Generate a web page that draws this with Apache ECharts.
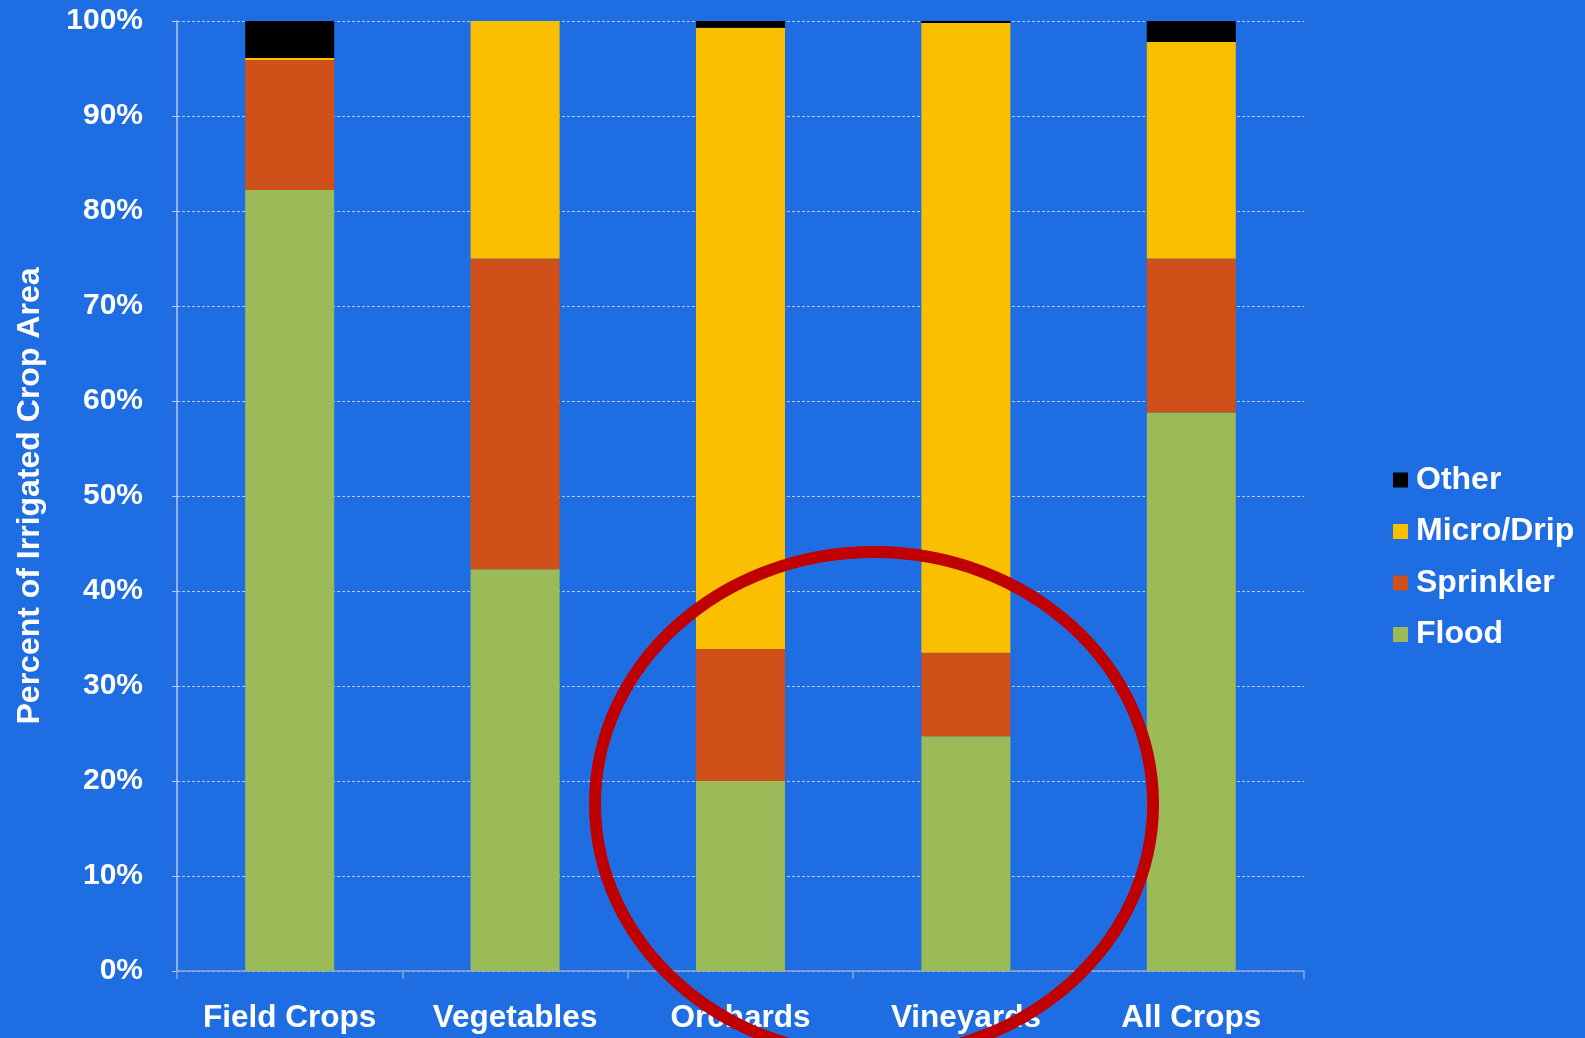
<!DOCTYPE html>
<html>
<head>
<meta charset="utf-8">
<script src="https://cdn.jsdelivr.net/npm/echarts@6/dist/echarts.min.js"></script>
<style>
html,body{margin:0;padding:0;background:#1f6de3;}
#chart{width:1585px;height:1038px;}
</style>
</head>
<body>
<div id="chart"></div>
<script>
const categories = ['Field Crops', 'Vegetables', 'Orchards', 'Vineyards', 'All Crops'];
const flood = [82.2, 42.3, 20.0, 24.7, 58.8];
const sprinkler = [13.7, 32.7, 13.9, 8.8, 16.2];
const microDrip = [0.2, 25.0, 65.4, 66.3, 22.8];
const other = [3.9, 0, 0.7, 0.2, 2.2];
const legendOrder = ['Other', 'Micro/Drip', 'Sprinkler', 'Flood'];

const FONT = '"Liberation Sans", Arial, sans-serif';
const chart = echarts.init(document.getElementById('chart'));
function bar(name, data, color) {
  return {
    name: name, type: 'bar', stack: 'total', data: data, barWidth: 89,
    itemStyle: { color: color }, emphasis: { disabled: true }
  };
}
chart.setOption({
  backgroundColor: '#1f6de3',
  animation: false,
  textStyle: { fontFamily: FONT },
  grid: { left: 177, right: 281, top: 21, bottom: 67, containLabel: false },
  legend: {
    orient: 'vertical', left: 1388, top: 459,
    data: legendOrder,
    itemWidth: 15, itemHeight: 15, itemGap: 19.5,
    icon: 'rect',
    textStyle: { color: '#ffffff', fontSize: 32, fontWeight: 'bold', fontFamily: FONT, lineHeight: 30, padding: [0, 0, 0, 3] }
  },
  xAxis: {
    type: 'category', data: categories,
    axisLine: { show: true, lineStyle: { color: '#8fa7cf', width: 1.5 } },
    axisTick: { show: true, length: 8, lineStyle: { color: '#8fa7cf', width: 1.5 } },
    axisLabel: { color: '#ffffff', fontSize: 31.5, fontWeight: 'bold', fontFamily: FONT, margin: 31, interval: 0 }
  },
  yAxis: {
    type: 'value', min: 0, max: 100, interval: 10,
    name: 'Percent of Irrigated Crop Area', nameLocation: 'middle', nameGap: 131,
    nameTextStyle: { color: '#ffffff', fontSize: 32, fontWeight: 'bold', fontFamily: FONT },
    axisLine: { show: true, lineStyle: { color: '#b9c8e6', width: 1.5 } },
    axisTick: { show: true, length: 5, lineStyle: { color: '#b9c8e6' } },
    axisLabel: { color: '#ffffff', fontSize: 30, fontWeight: 'bold', fontFamily: FONT, margin: 34, formatter: '{value}%' },
    splitLine: { show: true, lineStyle: { color: 'rgba(225,235,255,0.75)', width: 1, type: [3, 2] } }
  },
  series: [
    bar('Flood', flood, '#9bbb59'),
    bar('Sprinkler', sprinkler, '#cf5018'),
    bar('Micro/Drip', microDrip, '#fac000'),
    bar('Other', other, '#000000')
  ],
  graphic: [{
    type: 'ellipse', z: 100,
    shape: { cx: 874, cy: 804, rx: 279, ry: 252 },
    style: { fill: 'none', stroke: '#c00000', lineWidth: 12 }
  }]
});
</script>
</body>
</html>
